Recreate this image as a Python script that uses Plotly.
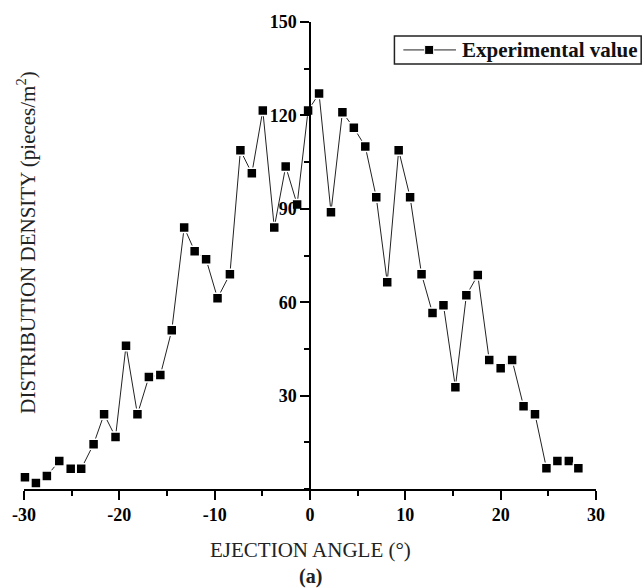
import plotly.graph_objects as go

# Data
angle = [-29.9, -28.75, -27.6, -26.3, -25.1, -24.0, -22.7, -21.6, -20.4, -19.3,
         -18.1, -16.9, -15.7, -14.5, -13.2, -12.1, -10.9, -9.7, -8.4, -7.3,
         -6.1, -4.95, -3.75, -2.55, -1.35, -0.2, 0.95, 2.2, 3.4, 4.6,
         5.8, 6.95, 8.1, 9.3, 10.5, 11.7, 12.85, 14.0, 15.25, 16.4,
         17.6, 18.8, 20.0, 21.2, 22.4, 23.6, 24.8, 25.95, 27.15, 28.15]
density = [3.8, 1.9, 4.2, 9.0, 6.5, 6.5, 14.4, 24.0, 16.7, 46.0,
           24.0, 36.0, 36.6, 51.0, 84.0, 76.4, 73.8, 61.3, 69.0, 108.8,
           101.4, 121.6, 84.0, 103.6, 91.4, 121.6, 127.0, 88.9, 121.0, 116.0,
           110.0, 93.7, 66.4, 108.8, 93.7, 69.0, 56.5, 59.0, 32.7, 62.2,
           68.7, 41.4, 38.8, 41.4, 26.6, 24.0, 6.7, 9.0, 9.0, 6.7]

x_tickvals = [-30, -20, -10, 0, 10, 20, 30]
x_ticktext = ["-30", "-20", "-10", "0", "10", "20", "30"]
y_tickvals = [30, 60, 90, 120, 150]
y_ticktext = ["30", "60", "90", "120", "150"]

series_name = "Experimental value"
x_title = "EJECTION ANGLE (°)"
y_title = "DISTRIBUTION DENSITY (pieces/m<sup>2</sup>)"
panel_label = "<b>(a)</b>"

SERIF = "Liberation Serif, Times New Roman, serif"

fig = go.Figure()
fig.add_trace(go.Scatter(
    x=angle, y=density, mode="lines+markers", name=series_name,
    line=dict(color="#222222", width=1),
    marker=dict(symbol="square", size=10, color="black",
                line=dict(color="white", width=1.5)),
    cliponaxis=False, showlegend=False,
))

# Legend drawn as a framed box (paper coordinates)
leg_x0, leg_x1, leg_y0, leg_y1 = 0.6476, 1.0790, 0.9103, 0.9701
leg_mid = (leg_y0 + leg_y1) / 2
shapes = [
    dict(type="rect", xref="paper", yref="paper", x0=leg_x0, x1=leg_x1,
         y0=leg_y0, y1=leg_y1, line=dict(color="#222222", width=1.5),
         fillcolor="white", layer="above"),
    dict(type="line", xref="paper", yref="paper", x0=0.6632, x1=0.7552,
         y0=leg_mid, y1=leg_mid, line=dict(color="#222222", width=1),
         layer="above"),
    dict(type="rect", xref="paper", yref="paper",
         xsizemode="pixel", ysizemode="pixel",
         xanchor=0.7083, yanchor=leg_mid, x0=-4.5, x1=4.5, y0=-4.5, y1=4.5,
         line=dict(color="white", width=1), fillcolor="black", layer="above"),
]

fig.update_layout(
    width=643, height=588,
    margin=dict(l=20, r=47, t=21, b=99),
    paper_bgcolor="white", plot_bgcolor="white",
    font=dict(family=SERIF, color="black"),
    showlegend=False,
    shapes=shapes,
    xaxis=dict(
        range=[-30, 30], showgrid=False, zeroline=False,
        showline=True, linecolor="black", linewidth=1.5,
        ticks="outside", ticklen=9, tickwidth=1.5, tickcolor="black",
        tickmode="array", tickvals=x_tickvals, ticktext=x_ticktext,
        tickfont=dict(family=SERIF, size=18, color="black", weight="bold"),
        minor=dict(dtick=5, tick0=0, ticks="outside", ticklen=5,
                   tickwidth=1.5, tickcolor="black", showgrid=False),
        fixedrange=True,
    ),
    yaxis=dict(
        range=[0, 150], showgrid=False, zeroline=False,
        anchor="free", position=0.5,
        showline=True, linecolor="black", linewidth=1.5,
        ticks="outside", ticklen=9, tickwidth=1.5, tickcolor="black",
        tickmode="array", tickvals=y_tickvals, ticktext=y_ticktext,
        tickfont=dict(family=SERIF, size=18, color="black", weight="bold"),
        minor=dict(dtick=15, tick0=0, ticks="outside", ticklen=5,
                   tickwidth=1.5, tickcolor="black", showgrid=False),
        fixedrange=True,
    ),
    annotations=[
        dict(text="<b>" + series_name + "</b>", xref="paper", yref="paper",
             x=0.7622, y=leg_mid, xanchor="left", yanchor="middle",
             showarrow=False,
             font=dict(family=SERIF, size=21, color="#111111")),
        dict(text=x_title, xref="paper", yref="paper", x=0.5, y=-0.130,
             xanchor="center", yanchor="middle", showarrow=False,
             font=dict(family=SERIF, size=21, color="#222222")),
        dict(text=panel_label, xref="paper", yref="paper", x=0.5, y=-0.188,
             xanchor="center", yanchor="middle", showarrow=False,
             font=dict(family=SERIF, size=20, color="#222222")),
        dict(text=y_title, xref="paper", yref="paper", x=0.004, y=0.528,
             xanchor="center", yanchor="middle", showarrow=False, textangle=-90,
             font=dict(family=SERIF, size=21, color="#222222")),
    ],
)

fig.write_html("out.html")
